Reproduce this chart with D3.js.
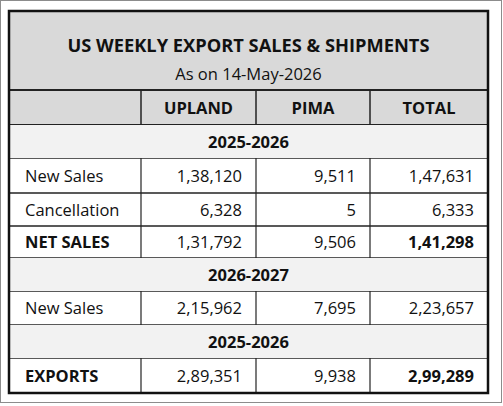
<!DOCTYPE html>
<html><head><meta charset="utf-8">
<script src="https://cdn.jsdelivr.net/npm/d3@7"></script>
<style>body{margin:0;background:#fff;font-family:"Open Sans",sans-serif;}</style>
</head><body>
<script>
const title = "US WEEKLY EXPORT SALES & SHIPMENTS";
const subtitle = "As on 14-May-2026";
const columns = ["", "UPLAND", "PIMA", "TOTAL"];
const rows = [
  {section: "2025-2026"},
  {label: "New Sales", vals: ["1,38,120", "9,511", "1,47,631"]},
  {label: "Cancellation", vals: ["6,328", "5", "6,333"]},
  {label: "NET SALES", vals: ["1,31,792", "9,506", "1,41,298"], bold: true},
  {section: "2026-2027"},
  {label: "New Sales", vals: ["2,15,962", "7,695", "2,23,657"]},
  {section: "2025-2026"},
  {label: "EXPORTS", vals: ["2,89,351", "9,938", "2,99,289"], bold: true}
];
const rowHeights = [33, 35, 33, 32, 33, 34, 33, 35];
const colX = [9, 141, 256, 370, 488];

const svg = d3.select("body").append("svg").attr("width", 503).attr("height", 406);
svg.append("rect").attr("x", 0.5).attr("y", 0.5).attr("width", 501).attr("height", 402)
  .attr("fill", "#fff").attr("stroke", "#8c8c8c");

const x0 = colX[0], x1 = colX[4];
svg.append("rect").attr("x", x0).attr("y", 11).attr("width", x1 - x0).attr("height", 79).attr("fill", "#d9d9d9");
svg.append("text").attr("x", (x0 + x1) / 2).attr("y", 52).attr("text-anchor", "middle")
  .attr("font-size", 17.5).attr("font-weight", "bold").attr("fill", "#111")
  .attr("textLength", 362).attr("lengthAdjust", "spacingAndGlyphs").text(title);
svg.append("text").attr("x", (x0 + x1) / 2).attr("y", 80).attr("text-anchor", "middle")
  .attr("font-size", 16.5).attr("fill", "#111").text(subtitle);

svg.append("rect").attr("x", x0).attr("y", 90).attr("width", x1 - x0).attr("height", 35).attr("fill", "#d9d9d9");
columns.forEach((c, i) => {
  if (!c) return;
  svg.append("text").attr("x", (colX[i] + colX[i + 1]) / 2).attr("y", 114).attr("text-anchor", "middle")
    .attr("font-size", 16.5).attr("font-weight", "bold").attr("fill", "#111").text(c);
});
const lines = svg.append("g").attr("stroke", "#222");
lines.append("line").attr("x1", x0).attr("x2", x1).attr("y1", 90).attr("y2", 90).attr("stroke-width", 2);
lines.append("line").attr("x1", x0).attr("x2", x1).attr("y1", 125).attr("y2", 125).attr("stroke-width", 2);
[1, 2, 3].forEach(i => lines.append("line").attr("x1", colX[i]).attr("x2", colX[i]).attr("y1", 90).attr("y2", 125).attr("stroke-width", 1.5));

let y = 125;
rows.forEach((r, k) => {
  const h = rowHeights[k];
  if (r.section) {
    svg.append("rect").attr("x", x0).attr("y", y).attr("width", x1 - x0).attr("height", h).attr("fill", "#f2f2f2");
    svg.append("text").attr("x", (x0 + x1) / 2).attr("y", y + h / 2 + 6).attr("text-anchor", "middle")
      .attr("font-size", 16.5).attr("font-weight", "bold").attr("fill", "#111").text(r.section);
  } else {
    svg.append("text").attr("x", x0 + 16).attr("y", y + h / 2 + 6).attr("font-size", 16.5)
      .attr("font-weight", r.bold ? "bold" : "normal").attr("fill", "#111").text(r.label);
    r.vals.forEach((v, i) => {
      svg.append("text").attr("x", colX[i + 2] - 14).attr("y", y + h / 2 + 6).attr("text-anchor", "end")
        .attr("font-size", 16.5).attr("font-weight", r.bold && i === 2 ? "bold" : "normal").attr("fill", "#111").text(v);
    });
    [1, 2, 3].forEach(i => lines.append("line").attr("x1", colX[i]).attr("x2", colX[i]).attr("y1", y).attr("y2", y + h).attr("stroke-width", 1.2));
  }
  y += h;
  lines.append("line").attr("x1", x0).attr("x2", x1).attr("y1", y).attr("y2", y).attr("stroke-width", 1.5);
});
svg.append("rect").attr("x", x0).attr("y", 11).attr("width", x1 - x0).attr("height", y - 11)
  .attr("fill", "none").attr("stroke", "#111").attr("stroke-width", 2.5);
</script>
</body></html>
